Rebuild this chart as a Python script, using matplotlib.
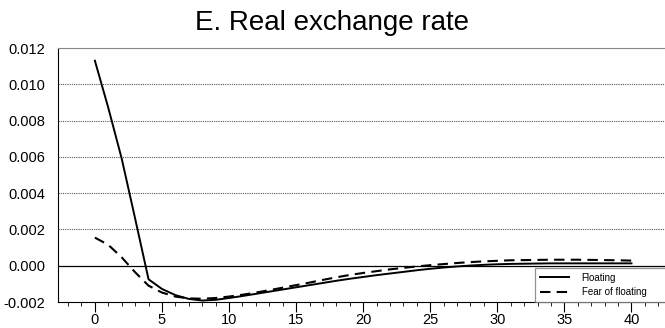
import numpy as np
import matplotlib
matplotlib.use("Agg")
import matplotlib.pyplot as plt
from matplotlib.ticker import MultipleLocator, FormatStrFormatter

plt.rcParams['font.family'] = ['Liberation Sans', 'DejaVu Sans']

# impulse responses, quarters 0..40
quarters = list(range(41))
floating = [0.0113, 0.0087, 0.0059, 0.0026, -0.00075, -0.00128, -0.00162, -0.00183, -0.00192, -0.00188,
            -0.00178, -0.00167, -0.00155, -0.00143, -0.00131, -0.00119, -0.00107, -0.00095, -0.00083, -0.00072,
            -0.00062, -0.00052, -0.00043, -0.00034, -0.00025, -0.00017, -0.0001, -0.00004, 0.00001, 0.00005,
            0.00008, 0.0001, 0.00011, 0.00012, 0.00013, 0.00013, 0.00013, 0.00013, 0.00013, 0.00013, 0.00013]
fear_of_floating = [0.00155, 0.00115, 0.00046, -0.00036, -0.0011, -0.00148, -0.0017, -0.0018, -0.00182, -0.00178,
                    -0.0017, -0.0016, -0.00148, -0.00135, -0.00121, -0.00107, -0.00093, -0.00078, -0.00064, -0.00051,
                    -0.0004, -0.0003, -0.0002, -0.00012, -0.00004, 0.00003, 0.00009, 0.00015, 0.0002, 0.00024,
                    0.00027, 0.0003, 0.00031, 0.00032, 0.00033, 0.00033, 0.00033, 0.00032, 0.00031, 0.0003, 0.00028]

fig = plt.figure(figsize=(6.65, 3.28), dpi=100)
ax = fig.add_axes([58 / 665, 1 - 302 / 328, 1 - 58 / 665, (302 - 48) / 328])

ax.plot(quarters, floating, color='black', lw=1.4, label='Floating')
ax.plot(quarters, fear_of_floating, color='black', lw=1.5, linestyle=(0, (5, 3)), label='Fear of floating')

ax.set_xlim(-2.75, 42.5)
ax.set_ylim(-0.002, 0.012)
ax.yaxis.set_major_locator(MultipleLocator(0.002))
ax.yaxis.set_major_formatter(FormatStrFormatter('%.3f'))
ax.xaxis.set_minor_locator(MultipleLocator(1))
ax.set_xticks(range(0, 41, 5))

for yv in np.arange(0.002, 0.0121, 0.002):
    ax.axhline(yv, color='#555555', lw=0.8, linestyle=(0, (1, 1)), zorder=0)
ax.axhline(0, color='black', lw=0.9, zorder=1)

ax.spines['right'].set_visible(False)
ax.spines['top'].set_color('#888888')
ax.spines['left'].set_color('black')
ax.spines['bottom'].set_color('black')
ax.tick_params(axis='y', length=0, labelsize=10.5, pad=9)
ax.tick_params(axis='x', which='major', length=7, direction='out', labelsize=10.5, pad=1)
ax.tick_params(axis='x', which='minor', length=3, direction='out')

leg = ax.legend(loc='lower left', bbox_to_anchor=(535 / 665, 1 - 302 / 328, 150 / 665, 35 / 328),
                bbox_transform=fig.transFigure, mode='expand', fontsize=7, frameon=True,
                fancybox=False, edgecolor='#777777', handlelength=3.0, borderpad=0.5,
                labelspacing=0.45, handletextpad=1.3, borderaxespad=0)
leg.get_frame().set_linewidth(0.9)

fig.text(0.4985, 0.93, 'E. Real exchange rate', ha='center', va='center', fontsize=20)

fig.savefig('out.png', dpi=100)
